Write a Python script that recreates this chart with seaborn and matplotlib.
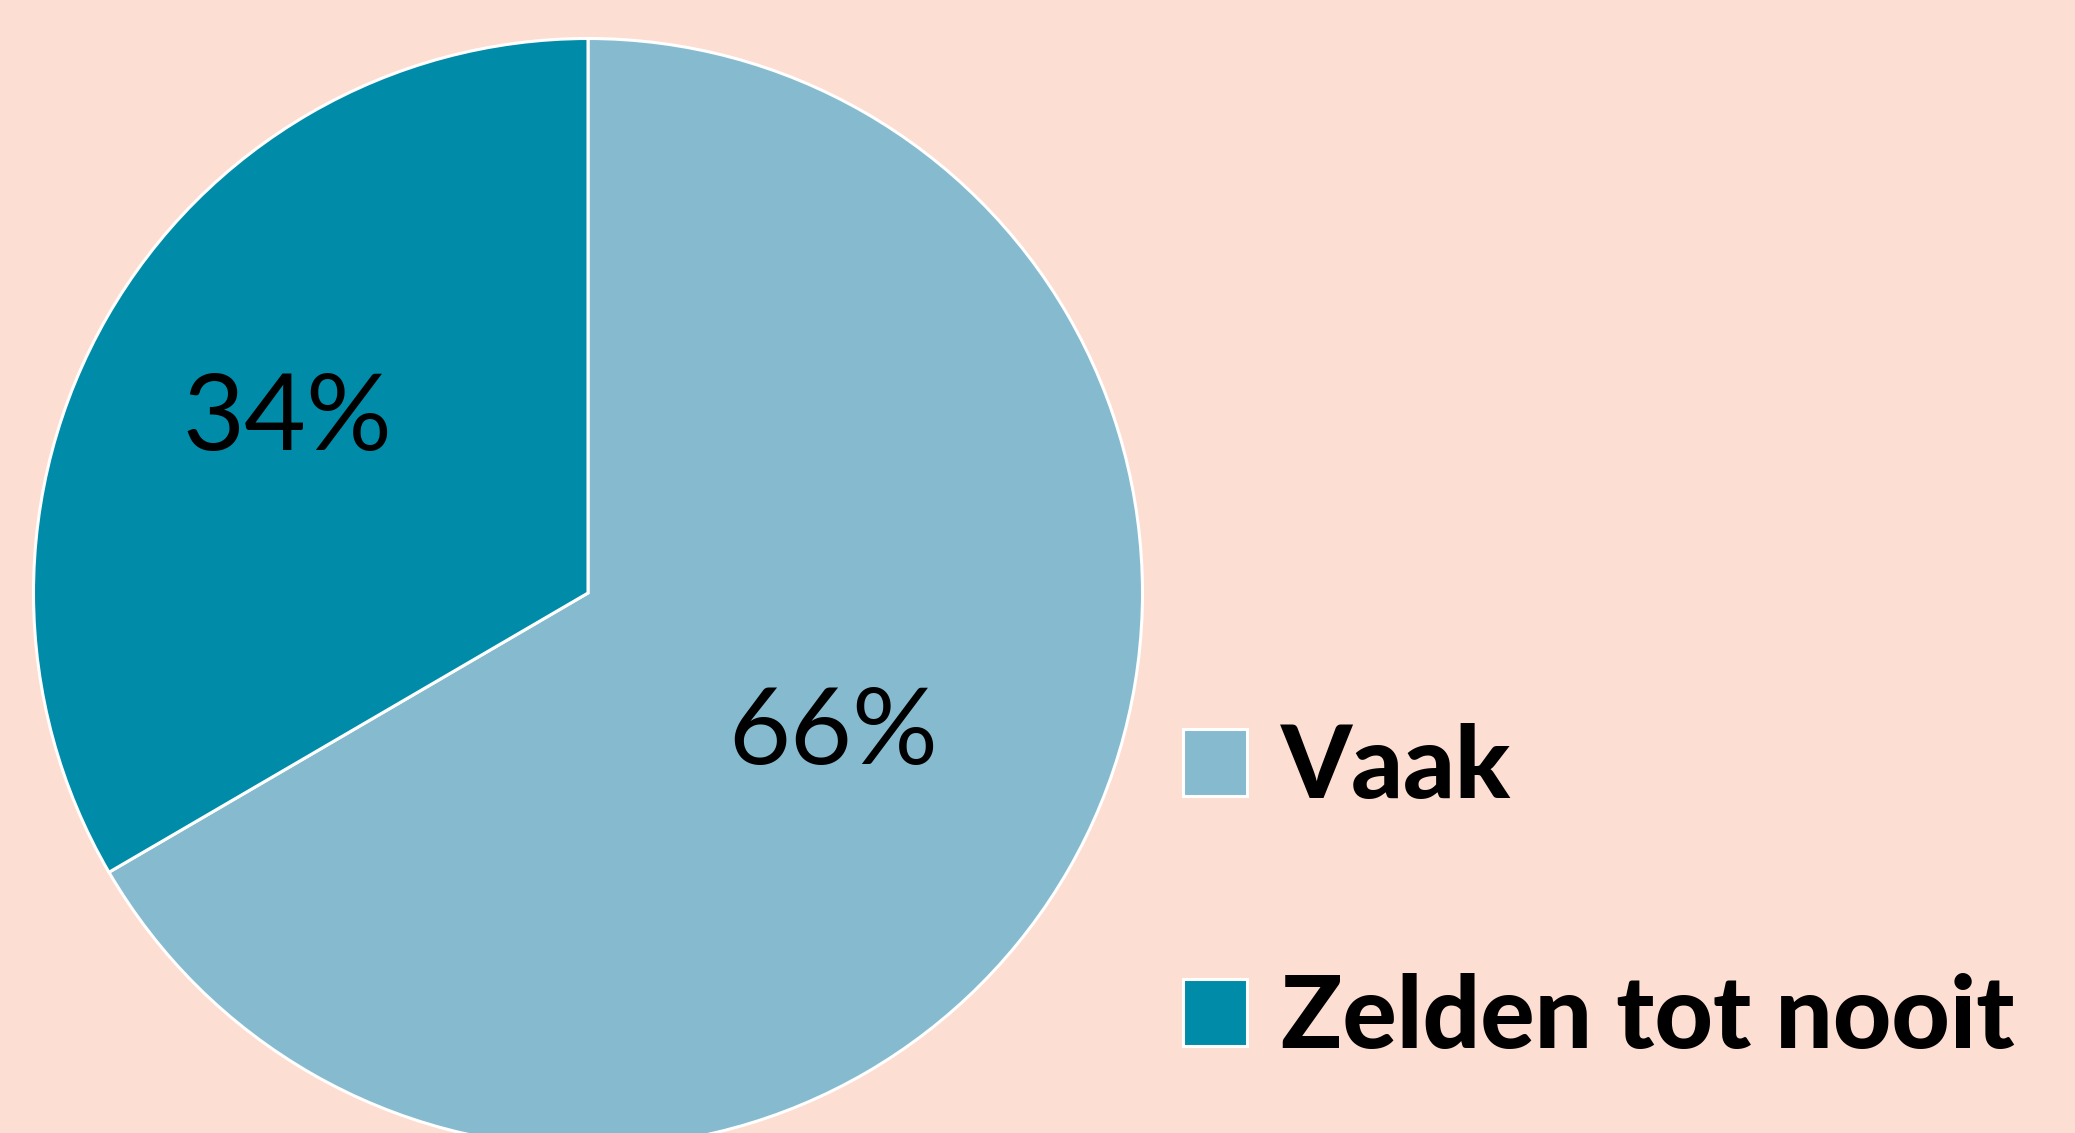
import matplotlib
matplotlib.use("Agg")
import matplotlib.pyplot as plt
import seaborn as sns
import numpy as np

categories = ["Vaak", "Zelden tot nooit"]
shares = [66.6, 33.4]
pct_labels = ["66%", "34%"]

bg = "#FCDED2"
kleuren = ["#86BBCF", "#008CA8"]
label_r = [0.51, 0.625]

sns.set_theme(style="white")
plt.rcParams["font.family"] = ["Lato", "DejaVu Sans"]
plt.rcParams["text.color"] = "black"

W, H = 2075, 1133
fig = plt.figure(figsize=(W / 100, H / 100), dpi=100, facecolor=bg)

# pie axes placed so the circle sits like in the reference
cx, cy, r = 588, H - 593, 554.5
ax = fig.add_axes([(cx - r) / W, (cy - r) / H, 2 * r / W, 2 * r / H])
ax.set_facecolor(bg)

wedges, texts = ax.pie(
    shares, colors=kleuren, startangle=90, counterclock=False,
    wedgeprops=dict(edgecolor="white", linewidth=2.2),
)
for w, lab, rr in zip(wedges, pct_labels, label_r):
    ang = np.deg2rad((w.theta1 + w.theta2) / 2)
    ax.text(rr * np.cos(ang), rr * np.sin(ang), lab, ha="center", va="center",
            fontsize=77, color="black")
ax.set_xlim(-1, 1)
ax.set_ylim(-1, 1)
ax.set_aspect("equal")
ax.axis("off")

leg = fig.legend(
    wedges, categories, loc="upper left",
    bbox_to_anchor=(1183 / W, 410 / H), frameon=False,
    prop=dict(family=["Lato", "DejaVu Sans"], weight="black", size=73),
    handlelength=0.63, handleheight=0.63, handletextpad=0.34,
    labelspacing=1.56, borderpad=0, borderaxespad=0,
    labelcolor="black",
)

fig.savefig("out.png", dpi=100, facecolor=bg)
plt.close(fig)
